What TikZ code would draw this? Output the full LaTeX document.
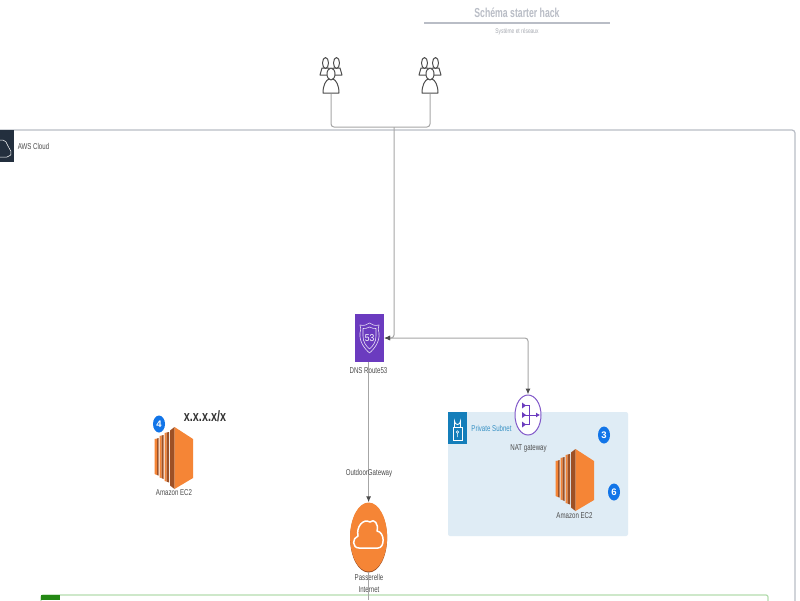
\documentclass[tikz,border=0pt]{standalone}
\usepackage{fontspec}
\setmainfont{Liberation Sans}
\usetikzlibrary{shapes.geometric, arrows.meta}

\definecolor{awsDark}{HTML}{232F3E}
\definecolor{ecOrange}{HTML}{F58536}
\definecolor{ecBrown}{HTML}{9D5025}
\definecolor{routePurple}{HTML}{6B3BBF}
\definecolor{subnetBlue}{HTML}{DFECF5}
\definecolor{subnetHead}{HTML}{147EBA}
\definecolor{badgeBlue}{HTML}{1275E8}
\definecolor{ruleGray}{HTML}{B9BDC6}
\definecolor{lineGray}{HTML}{A6A6A6}
\definecolor{vpcGreen}{HTML}{248814}
\definecolor{vpcLine}{HTML}{B4DCAE}

\tikzstyle{iconLabel} = [font = \fontsize{8.5}{10}\selectfont,
                         text = black!70,
                         xscale = 0.72,
                         align = center,
                         inner sep = 0pt
                         ]
\tikzstyle{link} = [draw = lineGray, line width = 1pt, rounded corners = 3pt]
\tikzstyle{linkTip} = [link, -{Latex[length = 6pt, width = 5pt, black!70]}]
\tikzstyle{badge} = [ellipse, fill = badgeBlue, text = white,
                     minimum width = 12pt, minimum height = 17pt, inner sep = 0pt,
                     font = \fontsize{9.5}{10}\selectfont\bfseries]
\tikzstyle{person} = [draw = black!70, fill = white, line width = 1pt, line join = round]

\tikzset{
    ec2icon/.pic = {
        \fill[ecOrange] (0, 12) -- (2.5, 11.5) -- (2.5, 48) -- (0, 47) -- cycle;
        \fill[ecBrown] (2.5, 11.5) -- (4, 11) -- (4, 48.5) -- (2.5, 48) -- cycle;
        \fill[ecOrange] (5, 9) -- (7, 8.5) -- (7, 51) -- (5, 50.5) -- cycle;
        \fill[ecBrown] (7, 8.5) -- (9, 8) -- (9, 52) -- (7, 51) -- cycle;
        \fill[ecOrange] (10, 6) -- (12, 5.5) -- (12, 54.5) -- (10, 54) -- cycle;
        \fill[ecBrown] (12, 5.5) -- (14.5, 5) -- (14.5, 55.5) -- (12, 54.5) -- cycle;
        \fill[ecBrown] (15.5, 3.5) -- (20, 0) -- (20, 62) -- (15.5, 58.5) -- cycle;
        \fill[ecOrange] (20, 0) -- (38.5, 12) -- (38.5, 51) -- (20, 62) -- cycle;
    },
    usersicon/.pic = {
        % back row
        \foreach \dx in {-5.5, 5.5} {
            \draw[person] (\dx - 5.5, 18) -- (\dx - 3.5, 11) -- (\dx + 3.5, 11) -- (\dx + 5.5, 18) -- cycle;
            \draw[person] (\dx, 6) ellipse (3 and 5.5);
        }
        % front
        \draw[person] (-8, 36) .. controls (-8, 28) and (-5, 23) .. (-2, 22)
            -- (2, 22) .. controls (5, 23) and (8, 28) .. (8, 36) -- cycle;
        \draw[person] (0, 17) ellipse (4 and 6);
    }
}

\begin{document}
\begin{tikzpicture}[x = 1pt, y = -1pt]

    \fill[white] (0, 0) rectangle (800, 600);
    \clip (0, 0) rectangle (800, 600);

    %%% Title
    \node (title) at (517, 12.5) [iconLabel, xscale = 0.93, font = \fontsize{13}{14}\selectfont\bfseries, text = ruleGray]{Schéma starter hack};
    \node (subtitle) at (517, 31.5) [iconLabel, font = \fontsize{6.8}{8}\selectfont, text = ruleGray!90!black]{Système et réseaux};
    \coordinate (ruleL) at (424, 23);
    \coordinate (ruleR) at (610, 23);
    \draw[ruleGray, line width = 1.3pt] (ruleL) -- (ruleR);

    %%% Frames
    % AWS Cloud
    \draw[draw = ruleGray, line width = 1.2pt, rounded corners = 3pt] (-3, 130) rectangle (795, 640);
    \node (awsHead) at (7, 146) [fill = awsDark, minimum width = 14pt, minimum height = 32pt, inner sep = 0pt]{};
    \draw[white, line width = 0.5pt, rounded corners = 2pt] (0, 157) -- (9, 157) -- (12, 153) -- (9, 148) -- (5, 140) -- (0, 140);
    \node (awsLabel) at (33.5, 146) [iconLabel]{AWS Cloud};

    % VPC (cut by the page)
    \draw[draw = vpcLine, line width = 1.2pt, rounded corners = 2pt] (41, 595) rectangle (768, 640);
    \fill[vpcGreen] (41, 594.5) rectangle (60, 600);

    % Private Subnet
    \node (subnet) at (538, 474) [fill = subnetBlue, rounded corners = 2pt, minimum width = 180pt, minimum height = 124pt, inner sep = 0pt]{};
    \node (subnetHead) at (457.5, 428) [fill = subnetHead, minimum width = 19pt, minimum height = 32pt, inner sep = 0pt]{};
    \draw[white, line width = 0.6pt] (453, 427) rectangle (462, 440);
    \draw[white, line width = 0.9pt] (454.5, 427) -- (454.5, 421) arc[start angle = 180, end angle = 0, x radius = 3, y radius = 3.5] -- (460.5, 427);
    \draw[white, line width = 0.5pt] (457.5, 432) circle (1.2pt) (457.5, 433.2) -- (457.5, 437);
    \node (subnetLabel) at (491.5, 428) [iconLabel, text = subnetHead!85]{Private Subnet};

    %%% Icons
    % Users
    \node (usersA) at (331, 75) [minimum width = 22pt, minimum height = 38pt, inner sep = 0pt]{};
    \node (usersB) at (430, 75) [minimum width = 22pt, minimum height = 38pt, inner sep = 0pt]{};
    \coordinate (busJoin) at (394, 127);

    % DNS
    \node (dns) at (369.5, 338) [fill = routePurple, minimum width = 29pt, minimum height = 48pt, inner sep = 0pt]{};
    \draw[white!85!routePurple, line width = 0.6pt, line join = round] (369.5, 323) .. controls (367, 325) and (364, 326) .. (360, 325)
        .. controls (361, 328) and (361, 330) .. (360, 333) .. controls (359, 342) and (365, 349) .. (369.5, 353)
        .. controls (374, 349) and (380, 342) .. (379, 333) .. controls (378, 330) and (378, 328) .. (379, 325)
        .. controls (375, 326) and (372, 325) .. (369.5, 323) -- cycle;
    \draw[white!85!routePurple, line width = 0.6pt, line join = round] (369.5, 327) .. controls (367, 328) and (365, 329) .. (363, 328.5)
        -- (363, 336) .. controls (363, 342) and (366, 346) .. (369.5, 349)
        .. controls (373, 346) and (376, 342) .. (376, 336) -- (376, 328.5)
        .. controls (374, 329) and (372, 328) .. (369.5, 327) -- cycle;
    \node (dnsNum) at (369.5, 338) [text = white, inner sep = 0pt, xscale = 0.85, font = \fontsize{10}{10}\selectfont]{53};
    \node (dnsLabel) at (368.5, 371) [iconLabel]{DNS Route53};

    % NAT
    \node (nat) at (528, 415) [ellipse, draw = routePurple!85, fill = white, line width = 1pt, minimum width = 26pt, minimum height = 40pt, inner sep = 0pt]{};
    \draw[routePurple, line width = 0.8pt, -{Latex[length = 4pt, width = 5pt]}] (523, 415) -- (540, 415);
    \draw[routePurple, line width = 0.8pt] (523, 405.5) -- (529, 405.5) -- (529, 424.5) -- (523, 424.5);
    \fill[routePurple] (522, 402.5) -- (526, 405.5) -- (522, 408.5) -- cycle;
    \fill[routePurple] (522, 412) -- (526, 415) -- (522, 418) -- cycle;
    \fill[routePurple] (522, 421.5) -- (526, 424.5) -- (522, 427.5) -- cycle;
    \node (natLabel) at (528.5, 448) [iconLabel]{NAT gateway};

    % Gateway
    \fill[ecBrown] (368.6, 538) ellipse (18.5 and 34.5);
    \node (gateway) at (368.6, 537) [ellipse, fill = ecOrange, minimum width = 37pt, minimum height = 69pt, inner sep = 0pt]{};
    \draw[white, line width = 1.5pt, line join = round] (359, 548) .. controls (352, 548) and (352, 538) .. (358, 536)
        .. controls (356, 527) and (363, 518) .. (370, 522)
        .. controls (374, 518) and (379, 524) .. (377, 531)
        .. controls (385, 532) and (385, 548) .. (378, 548) -- cycle;
    \node (gatewayLabel) at (369, 583) [iconLabel, font = \fontsize{8.5}{12}\selectfont]{Passerelle\\Internet};
    \coordinate (bottomEnd) at (368.6, 600);

    % EC2
    \pic (ec2Left) at (154.5, 427) {ec2icon};
    \pic (ec2Right) at (555.5, 449) {ec2icon};
    \node (ec2LeftLabel) at (174, 493) [iconLabel]{Amazon EC2};
    \node (ec2RightLabel) at (574.5, 515.5) [iconLabel]{Amazon EC2};

    % Badges
    \node (badgeFour) at (159, 424) [badge]{4};
    \node (badgeThree) at (604, 435) [badge]{3};
    \node (badgeSix) at (614, 492) [badge]{6};
    \node (cidr) at (205, 416) [iconLabel, font = \fontsize{15}{16}\selectfont\bfseries, text = black!80]{x.x.x.x/x};

    %%% Connectors
    \draw[link] (usersA.south) |- (busJoin) -| (usersB.south);
    \draw[linkTip] (busJoin) |- (dns.east);
    \draw[linkTip, {Latex[length = 6pt, width = 5pt, black!70]}-{Latex[length = 6pt, width = 5pt, black!70]}] (dns.east) -| (nat.north);
    \draw[linkTip] (dns.south -| gateway.north) -- (gateway.north);
    \draw[link] (gateway.south) -- (bottomEnd);
    \node (gatewayEdge) at (369, 473) [iconLabel]{OutdoorGateway};

    \pic at (331, 57) {usersicon};
    \pic at (430, 57) {usersicon};

\end{tikzpicture}
\end{document}
